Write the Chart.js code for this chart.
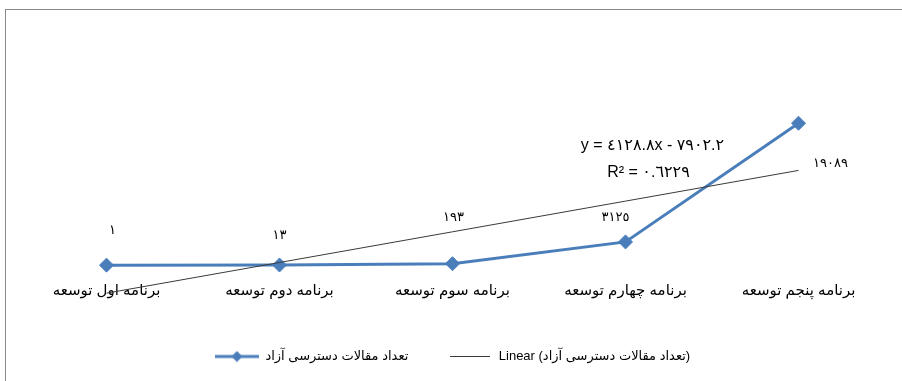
<!DOCTYPE html>
<html>
<head>
<meta charset="utf-8">
<script src="https://cdn.jsdelivr.net/npm/chart.js@4"></script>
<style>
  body { margin: 0; background: #fff; }
  #frame { position: absolute; left: 5px; top: 9px; width: 920px; height: 400px;
           border-top: 1px solid #8a8a8a; border-left: 1px solid #8a8a8a; }
  #wrap { position: absolute; left: 0; top: 0; width: 902px; height: 381px; }
</style>
</head>
<body>
<div id="frame"></div>
<div id="wrap"><canvas id="chart"></canvas></div>
<script>
// data
const categories = ['برنامه اول توسعه', 'برنامه دوم توسعه', 'برنامه سوم توسعه', 'برنامه چهارم توسعه', 'برنامه پنجم توسعه'];
const articleCounts = [1, 13, 193, 3125, 19089];
const seriesName = 'تعداد مقالات دسترسی آزاد';
const trendName = 'Linear (تعداد مقالات دسترسی آزاد)';

// label placement (style only, pixels relative to each point)
const labelOffsets = [[6, -35], [0, -30], [1, -46], [-10, -24], [32, 40]];

const FONT = '"Liberation Sans", "DejaVu Sans", sans-serif';
const BLUE = '#4a7ebb';
const TREND = '#3a3a3a';

// arabic-indic digits, as in the original
const toArabic = s => String(s).replace(/\d/g, d => '٠١٢٣٤٥٦٧٨٩'[d]);

// least squares trend line, x = 1..n like Excel
const n = articleCounts.length;
const xsIdx = articleCounts.map((v, i) => i + 1);
const meanX = xsIdx.reduce((a, b) => a + b, 0) / n;
const meanY = articleCounts.reduce((a, b) => a + b, 0) / n;
let sxy = 0, sxx = 0, syy = 0;
xsIdx.forEach((x, i) => {
  sxy += (x - meanX) * (articleCounts[i] - meanY);
  sxx += (x - meanX) * (x - meanX);
  syy += (articleCounts[i] - meanY) * (articleCounts[i] - meanY);
});
const slope = sxy / sxx;
const intercept = meanY - slope * meanX;
const r2 = (sxy * sxy) / (sxx * syy);
const trendValues = xsIdx.map(x => intercept + slope * x);

const eqText = 'y = ' + toArabic(slope.toFixed(1)) + 'x ' + (intercept < 0 ? '- ' : '+ ') + toArabic(Math.abs(intercept).toFixed(1));
const r2Text = 'R² = ' + toArabic(r2.toFixed(4));

// legend icons
function makeIcon(w, h, draw) {
  const c = document.createElement('canvas');
  c.width = w; c.height = h;
  draw(c.getContext('2d'));
  return c;
}
const seriesIcon = makeIcon(44, 12, g => {
  g.strokeStyle = BLUE; g.lineWidth = 3;
  g.beginPath(); g.moveTo(0, 6); g.lineTo(44, 6); g.stroke();
  g.fillStyle = BLUE;
  g.beginPath(); g.moveTo(22, 0.5); g.lineTo(27.5, 6); g.lineTo(22, 11.5); g.lineTo(16.5, 6); g.closePath(); g.fill();
});
const trendIcon = makeIcon(40, 3, g => {
  g.strokeStyle = TREND; g.lineWidth = 1;
  g.beginPath(); g.moveTo(0, 1.5); g.lineTo(40, 1.5); g.stroke();
});

const extras = {
  id: 'extras',
  afterDatasetsDraw(chart) {
    const ctx = chart.ctx;
    const pts = chart.getDatasetMeta(0).data;
    ctx.save();
    ctx.fillStyle = '#000';
    ctx.textAlign = 'center';
    ctx.textBaseline = 'middle';
    ctx.font = '13px ' + FONT;
    pts.forEach((p, i) => {
      ctx.fillText(toArabic(articleCounts[i]), p.x + labelOffsets[i][0], p.y + labelOffsets[i][1]);
    });
    // trend line equation, next to the end of the trend line
    const end = chart.getDatasetMeta(1).data[n - 1];
    ctx.font = '16px ' + FONT;
    ctx.fillText(eqText, end.x - 146, end.y - 25);
    ctx.fillText(r2Text, end.x - 150, end.y + 2);
    ctx.restore();
  }
};

new Chart(document.getElementById('chart'), {
  type: 'line',
  data: {
    labels: categories,
    datasets: [{
      label: seriesName,
      data: articleCounts,
      borderColor: BLUE,
      backgroundColor: BLUE,
      borderWidth: 3,
      pointStyle: 'rectRot',
      pointRadius: 7,
      pointBorderWidth: 1,
      pointBackgroundColor: BLUE,
      pointBorderColor: BLUE,
      tension: 0,
      order: 1
    }, {
      label: trendName,
      data: trendValues,
      borderColor: TREND,
      borderWidth: 1,
      pointRadius: 0,
      clip: false,
      order: 0
    }]
  },
  options: {
    responsive: true,
    maintainAspectRatio: false,
    animation: false,
    layout: { padding: { left: 20, right: 17, top: 57, bottom: 8 } },
    plugins: {
      tooltip: { enabled: false },
      legend: {
        position: 'bottom',
        labels: {
          usePointStyle: true,
          pointStyleWidth: 44,
          padding: 40,
          color: '#000',
          font: { size: 13, family: FONT },
          generateLabels: () => [
            { text: seriesName, pointStyle: seriesIcon, datasetIndex: 0, lineWidth: 0, fillStyle: 'transparent', strokeStyle: 'transparent' },
            { text: trendName, pointStyle: trendIcon, datasetIndex: 1, lineWidth: 0, fillStyle: 'transparent', strokeStyle: 'transparent' }
          ]
        }
      }
    },
    scales: {
      x: {
        offset: true,
        grid: { display: false, drawTicks: false },
        border: { display: false },
        ticks: { color: '#000', font: { size: 15, family: FONT }, padding: 2, maxRotation: 0, autoSkip: false },
        afterFit: s => { s.height += 8; }
      },
      y: {
        display: false,
        min: -2000,
        max: 28000
      }
    }
  },
  plugins: [extras]
});
</script>
</body>
</html>
